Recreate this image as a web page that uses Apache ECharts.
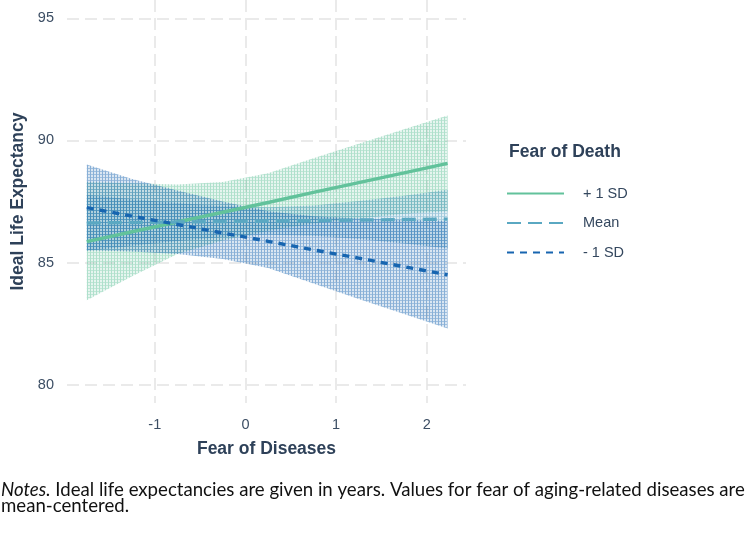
<!DOCTYPE html>
<html>
<head>
<meta charset="utf-8">
<script src="https://cdn.jsdelivr.net/npm/echarts@6/dist/echarts.min.js"></script>
<style>
html,body{margin:0;padding:0;background:#fff;}
#chart{width:751px;height:544px;}
</style>
</head>
<body>
<div id="chart"></div>
<script>
// ---- data ----
const xs = [-1.75, -1.25, -0.75, -0.25, 0.25, 0.75, 1.25, 1.75, 2.23];
const plusLine  = [85.86, 86.26, 86.66, 87.06, 87.46, 87.87, 88.27, 88.67, 89.06];
const plusUpper = [88.30, 88.25, 88.20, 88.30, 88.66, 89.27, 89.86, 90.46, 91.02];
const plusLower = [83.46, 84.44, 85.35, 85.90, 86.30, 86.60, 86.80, 87.00, 87.10];
const meanLine  = [86.62, 86.64, 86.66, 86.68, 86.70, 86.72, 86.74, 86.76, 86.78];
const meanUpper = [87.77, 87.59, 87.44, 87.31, 87.26, 87.34, 87.52, 87.74, 87.98];
const meanLower = [85.47, 85.69, 85.88, 86.05, 86.14, 86.10, 85.96, 85.78, 85.58];
const minusLine  = [87.25, 86.90, 86.56, 86.21, 85.87, 85.52, 85.18, 84.83, 84.50];
const minusUpper = [89.02, 88.42, 87.95, 87.50, 87.10, 86.90, 86.80, 86.75, 86.70];
const minusLower = [85.50, 85.45, 85.35, 85.15, 84.78, 84.14, 83.51, 82.89, 82.30];
const xTicks = [-1, 0, 1, 2];
const yTicks = [80, 85, 90, 95];
const seriesNames = ['+ 1 SD', 'Mean', '- 1 SD'];
const notesLine1 = 'Ideal life expectancies are given in years. Values for fear of aging-related diseases are';
const notesLine2 = 'mean-centered.';

const colPlus = '#62c29b', colMean = '#5aa8c2', colMinus = '#1765b0';

function makePattern(r, g, b) {
  const c = document.createElement('canvas');
  c.width = 3; c.height = 3;
  const ctx = c.getContext('2d');
  ctx.fillStyle = `rgba(${r},${g},${b},0.16)`;
  ctx.fillRect(0, 0, 3, 3);
  ctx.fillStyle = `rgba(${r},${g},${b},0.42)`;
  ctx.fillRect(0, 0, 1, 3);
  ctx.fillStyle = `rgba(${r},${g},${b},0.30)`;
  ctx.fillRect(1, 0, 2, 1);
  return { image: c, repeat: 'repeat' };
}

function bandSeries(name, upper, lower, pattern) {
  return {
    name: name, type: 'custom', silent: true, z: 1,
    data: [[xs[0], upper[0]]],
    renderItem: function (params, api) {
      const pts = [];
      for (let i = 0; i < xs.length; i++) pts.push(api.coord([xs[i], upper[i]]));
      for (let i = xs.length - 1; i >= 0; i--) pts.push(api.coord([xs[i], lower[i]]));
      return { type: 'polygon', shape: { points: pts }, style: { fill: pattern, stroke: null } };
    }
  };
}
function lineSeries(name, vals, color, dash) {
  return {
    name: name, type: 'line', z: 3, symbol: 'none', showSymbol: false,
    data: xs.map((x, i) => [x, vals[i]]),
    lineStyle: { color: color, width: 3.4, type: dash, cap: 'butt' },
    itemStyle: { color: color }
  };
}

// fit the notes font size so that the first line spans the page width
const notesFamily = 'Lato, "Liberation Sans", sans-serif';
const mc = document.createElement('canvas').getContext('2d');
mc.font = 'italic 16px ' + notesFamily;
const wItal = mc.measureText('Notes.').width;
mc.font = '16px ' + notesFamily;
const wRest = mc.measureText(' ' + notesLine1).width;
let notesSize = 16 * 744 / (wItal + wRest);
notesSize = Math.max(13, Math.min(19, notesSize));

const chart = echarts.init(document.getElementById('chart'));
const gridDash = { color: '#e3e3e3', width: 1.5, type: [12, 6] };
chart.setOption({
  animation: false,
  backgroundColor: '#fff',
  grid: { left: 67, right: 285, top: 0, bottom: 141, containLabel: false },
  xAxis: {
    type: 'value', min: -1.968, max: 2.433,
    name: 'Fear of Diseases', nameLocation: 'middle', nameGap: 37,
    nameTextStyle: { fontFamily: 'Liberation Sans', fontWeight: 'bold', fontSize: 17.5, color: '#2e4159' },
    axisLine: { show: false },
    axisTick: { show: false, customValues: xTicks },
    axisLabel: { customValues: xTicks, margin: 14, fontFamily: 'Liberation Sans', fontSize: 14.5, color: '#3c4e64' },
    splitLine: { show: true, lineStyle: gridDash }
  },
  yAxis: {
    type: 'value', min: 79.25, max: 95.75,
    name: 'Ideal Life Expectancy', nameLocation: 'middle', nameGap: 40,
    nameTextStyle: { fontFamily: 'Liberation Sans', fontWeight: 'bold', fontSize: 17.5, color: '#2e4159' },
    axisLine: { show: false },
    axisTick: { show: false, customValues: yTicks },
    axisLabel: { customValues: yTicks, margin: 13, fontFamily: 'Liberation Sans', fontSize: 14.5, color: '#3c4e64' },
    splitLine: { show: true, lineStyle: gridDash }
  },
  legend: {
    data: seriesNames, orient: 'vertical', left: 501, top: 181,
    itemWidth: 57, itemHeight: 14, itemGap: 14.5,
    itemStyle: { opacity: 0 },
    textStyle: { fontFamily: 'Liberation Sans', fontSize: 14.5, color: '#34475e', padding: [0, 0, 0, 14] },
    selectedMode: false
  },
  graphic: [
    { type: 'text', left: 509, top: 143,
      style: { text: 'Fear of Death', font: 'bold 17.5px "Liberation Sans"', fill: '#2e4159' } },
    { type: 'text', left: 1, top: 480,
      style: {
        text: '{i|Notes.} ' + notesLine1 + '\n' + notesLine2,
        fontFamily: notesFamily, fontSize: notesSize, fill: '#111', lineHeight: 16,
        rich: { i: { fontStyle: 'italic', fontFamily: notesFamily, fontSize: notesSize, lineHeight: 16, fill: '#111' } }
      } }
  ],
  series: [
    bandSeries('band+', plusUpper, plusLower, makePattern(98, 194, 155)),
    bandSeries('bandM', meanUpper, meanLower, makePattern(70, 150, 185)),
    bandSeries('band-', minusUpper, minusLower, makePattern(23, 101, 176)),
    lineSeries(seriesNames[0], plusLine, colPlus, 'solid'),
    lineSeries(seriesNames[1], meanLine, colMean, [14, 7]),
    lineSeries(seriesNames[2], minusLine, colMinus, [7, 6])
  ]
});
</script>
</body>
</html>
